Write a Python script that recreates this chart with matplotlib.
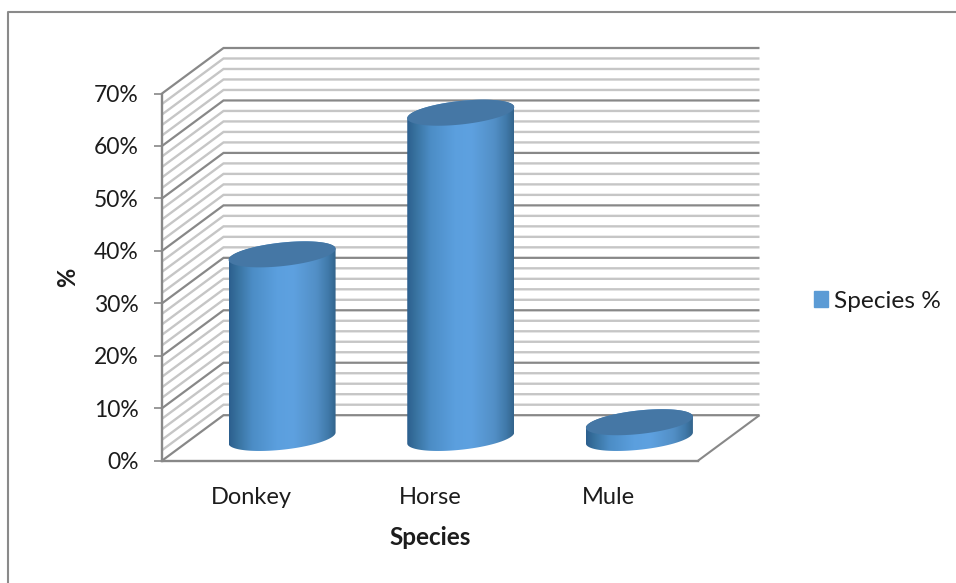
import numpy as np
import matplotlib
matplotlib.use("Agg")
import matplotlib.pyplot as plt
from matplotlib.colors import LinearSegmentedColormap
from matplotlib.lines import Line2D
from matplotlib.patches import Patch, Polygon
from matplotlib.transforms import IdentityTransform

categories = ["Donkey", "Horse", "Mule"]
series_name = "Species %"
values = [35, 62, 3]
major_ticks = [0, 10, 20, 30, 40, 50, 60, 70]
minor_ticks = [2, 4, 6, 8, 12, 14, 16, 18, 22, 24, 26, 28, 32, 34, 36, 38,
               42, 44, 46, 48, 52, 54, 56, 58, 62, 64, 66, 68]

plt.rcParams["font.family"] = ["Lato", "DejaVu Sans"]
W, H = 956, 583
fig = plt.figure(figsize=(W / 100, H / 100), dpi=100, facecolor="white")
ax = fig.add_axes([162 / W, (H - 460.7) / H, 536 / W, 367.2 / H])
ax.set_xlim(-0.5, 2.5)
ax.set_ylim(0, 70)
ax.patch.set_alpha(0)

DX, DY = 61.5, 45.5
MAJOR, MINOR, TXT = "#888888", "#c6c6c6", "#1c1c1c"
ID = IdentityTransform()


def px(x, y):
    return ax.transData.transform((x, y))


def line(pts, color, lw, z=1):
    p = np.array(pts)
    ax.add_line(Line2D(p[:, 0], p[:, 1], color=color, lw=lw, transform=ID,
                       clip_on=False, zorder=z, solid_capstyle="butt",
                       solid_joinstyle="miter"))


for ticks, color, lw in ((minor_ticks, MINOR, 1.7), (major_ticks, MAJOR, 1.6)):
    for v in ticks:
        a = px(-0.5, v)
        b = a + (DX, DY)
        c = px(2.5, v) + (DX, DY)
        line([a, b, c], color, lw)

# floor right edge
line([px(2.5, 0), px(2.5, 0) + (DX, DY)], MAJOR, 1.5)

for s in ("top", "right"):
    ax.spines[s].set_visible(False)
for s in ("left", "bottom"):
    ax.spines[s].set_color(MAJOR)
    ax.spines[s].set_linewidth(1.7)
    ax.spines[s].set_zorder(2)

ax.set_yticks(major_ticks, [f"{v}%" for v in major_ticks], fontsize=16.5, color=TXT)
ax.set_xticks(range(len(categories)), categories, fontsize=17, color=TXT)
ax.tick_params(axis="y", length=5.5, width=1.2, color=MAJOR, pad=11.5)
ax.tick_params(axis="x", length=0, pad=19)
ax.set_xlabel("Species", fontsize=17.5, fontweight="bold", color=TXT, labelpad=13)
ax.set_ylabel("%", fontsize=17, fontweight="bold", color=TXT, labelpad=10)

cmap = LinearSegmentedColormap.from_list(
    "cyl", [(0, "#2c5f8e"), (0.08, "#38729f"), (0.22, "#4c8dc6"), (0.45, "#5b9fde"),
            (0.6, "#5ea1e0"), (0.82, "#528fc6"), (0.93, "#4079a9"), (1, "#33648b")])
A, SK, C = 53.5, 5.5, 11.8


def ell(center, t):
    return np.column_stack([center[0] + A * np.cos(t),
                            center[1] + SK * np.cos(t) + C * np.sin(t)])


for i, v in enumerate(values):
    bot = px(i, 0) + (DX / 2, DY / 2)
    top = px(i, v) + (DX / 2, DY / 2)
    t_low = np.linspace(np.pi, 2 * np.pi, 80)
    t_up = np.linspace(0, np.pi, 80)
    body = np.vstack([ell(bot, t_low), ell(top, t_up)])
    patch = Polygon(body, closed=True, transform=ID, fc="none", ec="none", zorder=3)
    ax.add_patch(patch)
    grad = np.linspace(0, 1, 256).reshape(1, -1)
    im = ax.imshow(grad, cmap=cmap, aspect="auto", interpolation="bilinear",
                   extent=(bot[0] - A, bot[0] + A, bot[1] - 20, top[1] + 20),
                   transform=ID, zorder=3)
    im.set_clip_path(patch)
    cap = ell(top, np.linspace(0, 2 * np.pi, 160))
    ax.add_patch(Polygon(cap, closed=True, transform=ID, fc="#4577a5", ec="none",
                         zorder=4, clip_on=False))
ax.set_xlim(-0.5, 2.5)
ax.set_ylim(0, 70)

fig.legend(handles=[Patch(color="#5b9bd5", label=series_name)], loc="center left",
           bbox_to_anchor=(792 / W, (H - 301.5) / H), frameon=False, fontsize=17.6,
           handlelength=0.58, handleheight=0.62, handletextpad=0.25, labelcolor=TXT)

# outer chart frame
fig.add_artist(Line2D([7.5 / W, 7.5 / W, 1], [0, (H - 12) / H, (H - 12) / H], color="#8a8a8a",
                      lw=1.5, transform=fig.transFigure))

fig.savefig("out.png", dpi=100)
